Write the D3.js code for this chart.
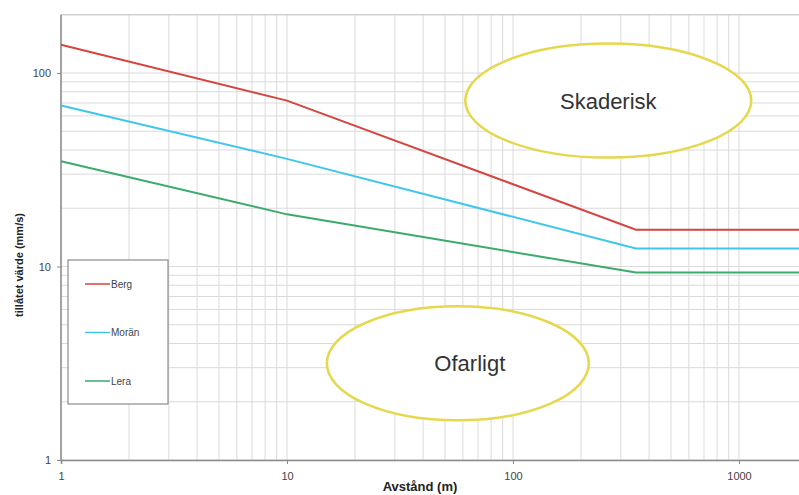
<!DOCTYPE html>
<html>
<head>
<meta charset="utf-8">
<script src="https://cdn.jsdelivr.net/npm/d3@7"></script>
<style>
  html, body { margin: 0; padding: 0; background: #fff; }
  svg { display: block; font-family: "Liberation Sans", Arial, sans-serif; }
</style>
</head>
<body>
<svg id="chart" width="799" height="495"></svg>
<script>
// Allowed vibration level vs distance, log-log, three ground types.
const distances = [1, 10, 350, 2000];
const berg  = [140, 72, 15.5, 15.5];
const moran = [68, 36, 12.4, 12.4];
const lera  = [35, 18.6, 9.3, 9.3];

const seriesNames  = ["Berg", "Morän", "Lera"];
const seriesColors = ["#d4453f", "#3ec7e8", "#3aab6c"];

const xTicks = [1, 10, 100, 1000];
const yTicks = [1, 10, 100];

// zones: label, centre in data units
const zones = [
  { label: "Skaderisk", x: 264, y: 72 },
  { label: "Ofarligt",  x: 57,  y: 3.16 }
];

const svg = d3.select("#chart");

const x0 = 61, xDecade = 226;
const y0 = 460, yDecade = 193.5;

const x = d3.scaleLog()
  .domain([1, 2000])
  .range([x0, x0 + xDecade * Math.log10(2000)]);

const y = d3.scaleLog()
  .domain([1, 200])
  .range([y0, y0 - yDecade * Math.log10(200)]);

const plotRight = x.range()[1];
const plotTop = y.range()[1];

// minor + major grid values
const xGrid = [];
for (let d = 1; d <= 1000; d *= 10)
  for (let m = 1; m <= 9; m++) if (d * m <= 2000) xGrid.push(d * m);
xGrid.push(2000);
const yGrid = [];
for (let d = 1; d <= 100; d *= 10)
  for (let m = 1; m <= 9; m++) if (d * m <= 200) yGrid.push(d * m);

const grid = svg.append("g");
grid.selectAll(".gx").data(xGrid).join("line")
  .attr("x1", d => x(d)).attr("x2", d => x(d))
  .attr("y1", plotTop).attr("y2", y0)
  .attr("stroke", "#dadada").attr("stroke-width", 1);
grid.selectAll(".gy").data(yGrid).join("line")
  .attr("x1", x0).attr("x2", plotRight)
  .attr("y1", d => y(d)).attr("y2", d => y(d))
  .attr("stroke", "#dadada").attr("stroke-width", 1);
grid.append("line")
  .attr("x1", x0).attr("x2", plotRight)
  .attr("y1", plotTop).attr("y2", plotTop)
  .attr("stroke", "#c8c8c8");

// axes
const xAxis = svg.append("g")
  .attr("transform", `translate(0,${y0})`)
  .call(d3.axisBottom(x).tickValues(xTicks).tickFormat(d3.format("d")).tickSize(4).tickPadding(8));
const yAxis = svg.append("g")
  .attr("transform", `translate(${x0},0)`)
  .call(d3.axisLeft(y).tickValues(yTicks).tickFormat(d3.format("d")).tickSize(4).tickPadding(6));
[xAxis, yAxis].forEach(a => {
  a.selectAll(".domain").attr("stroke", "#8a8a8a").attr("stroke-width", 1.5);
  a.selectAll(".tick line").attr("stroke", "#8a8a8a");
  a.selectAll(".tick text").attr("fill", "#444").attr("font-size", 11)
    .attr("font-family", "Liberation Sans, Arial, sans-serif");
});
yAxis.select(".domain").attr("d", `M0,${y0}V${plotTop}`);

// zone ellipses
zones.forEach(z => {
  const cx = x(z.x), cy = y(z.y);
  svg.append("ellipse")
    .attr("cx", cx).attr("cy", cy)
    .attr("rx", z.label === "Skaderisk" ? 143 : 131).attr("ry", 57)
    .attr("fill", "#fff")
    .attr("stroke", "#e6d84c").attr("stroke-width", 2.5);
  svg.append("text")
    .attr("x", z.label === "Skaderisk" ? cx : cx + 12)
    .attr("y", cy + 8)
    .attr("text-anchor", "middle")
    .attr("fill", "#333")
    .attr("font-size", 22)
    .text(z.label);
});

// series
const series = [berg, moran, lera];
const line = d3.line()
  .x((d, i) => x(distances[i]))
  .y(d => y(d));
series.forEach((s, i) => {
  svg.append("path")
    .attr("d", line(s))
    .attr("fill", "none")
    .attr("stroke", seriesColors[i])
    .attr("stroke-width", 2);
});

// legend
const legend = svg.append("g").attr("transform", "translate(68,260)");
legend.append("rect")
  .attr("width", 100).attr("height", 144)
  .attr("fill", "#fff").attr("stroke", "#777").attr("stroke-width", 1);
seriesNames.forEach((n, i) => {
  const ly = 24 + i * 48.5;
  legend.append("line")
    .attr("x1", 17).attr("x2", 42)
    .attr("y1", ly).attr("y2", ly)
    .attr("stroke", seriesColors[i]).attr("stroke-width", 1.5);
  legend.append("text")
    .attr("x", 43).attr("y", ly + 3.5)
    .attr("fill", "#444").attr("font-size", 10)
    .text(n);
});

// axis titles
svg.append("text")
  .attr("transform", `translate(23,265) rotate(-90)`)
  .attr("text-anchor", "middle")
  .attr("font-size", 11).attr("font-weight", "bold").attr("fill", "#222")
  .text("tillåtet värde (mm/s)");
svg.append("text")
  .attr("x", 420).attr("y", 491)
  .attr("text-anchor", "middle")
  .attr("font-size", 13).attr("font-weight", "bold").attr("fill", "#222")
  .text("Avstånd (m)");
</script>
</body>
</html>
